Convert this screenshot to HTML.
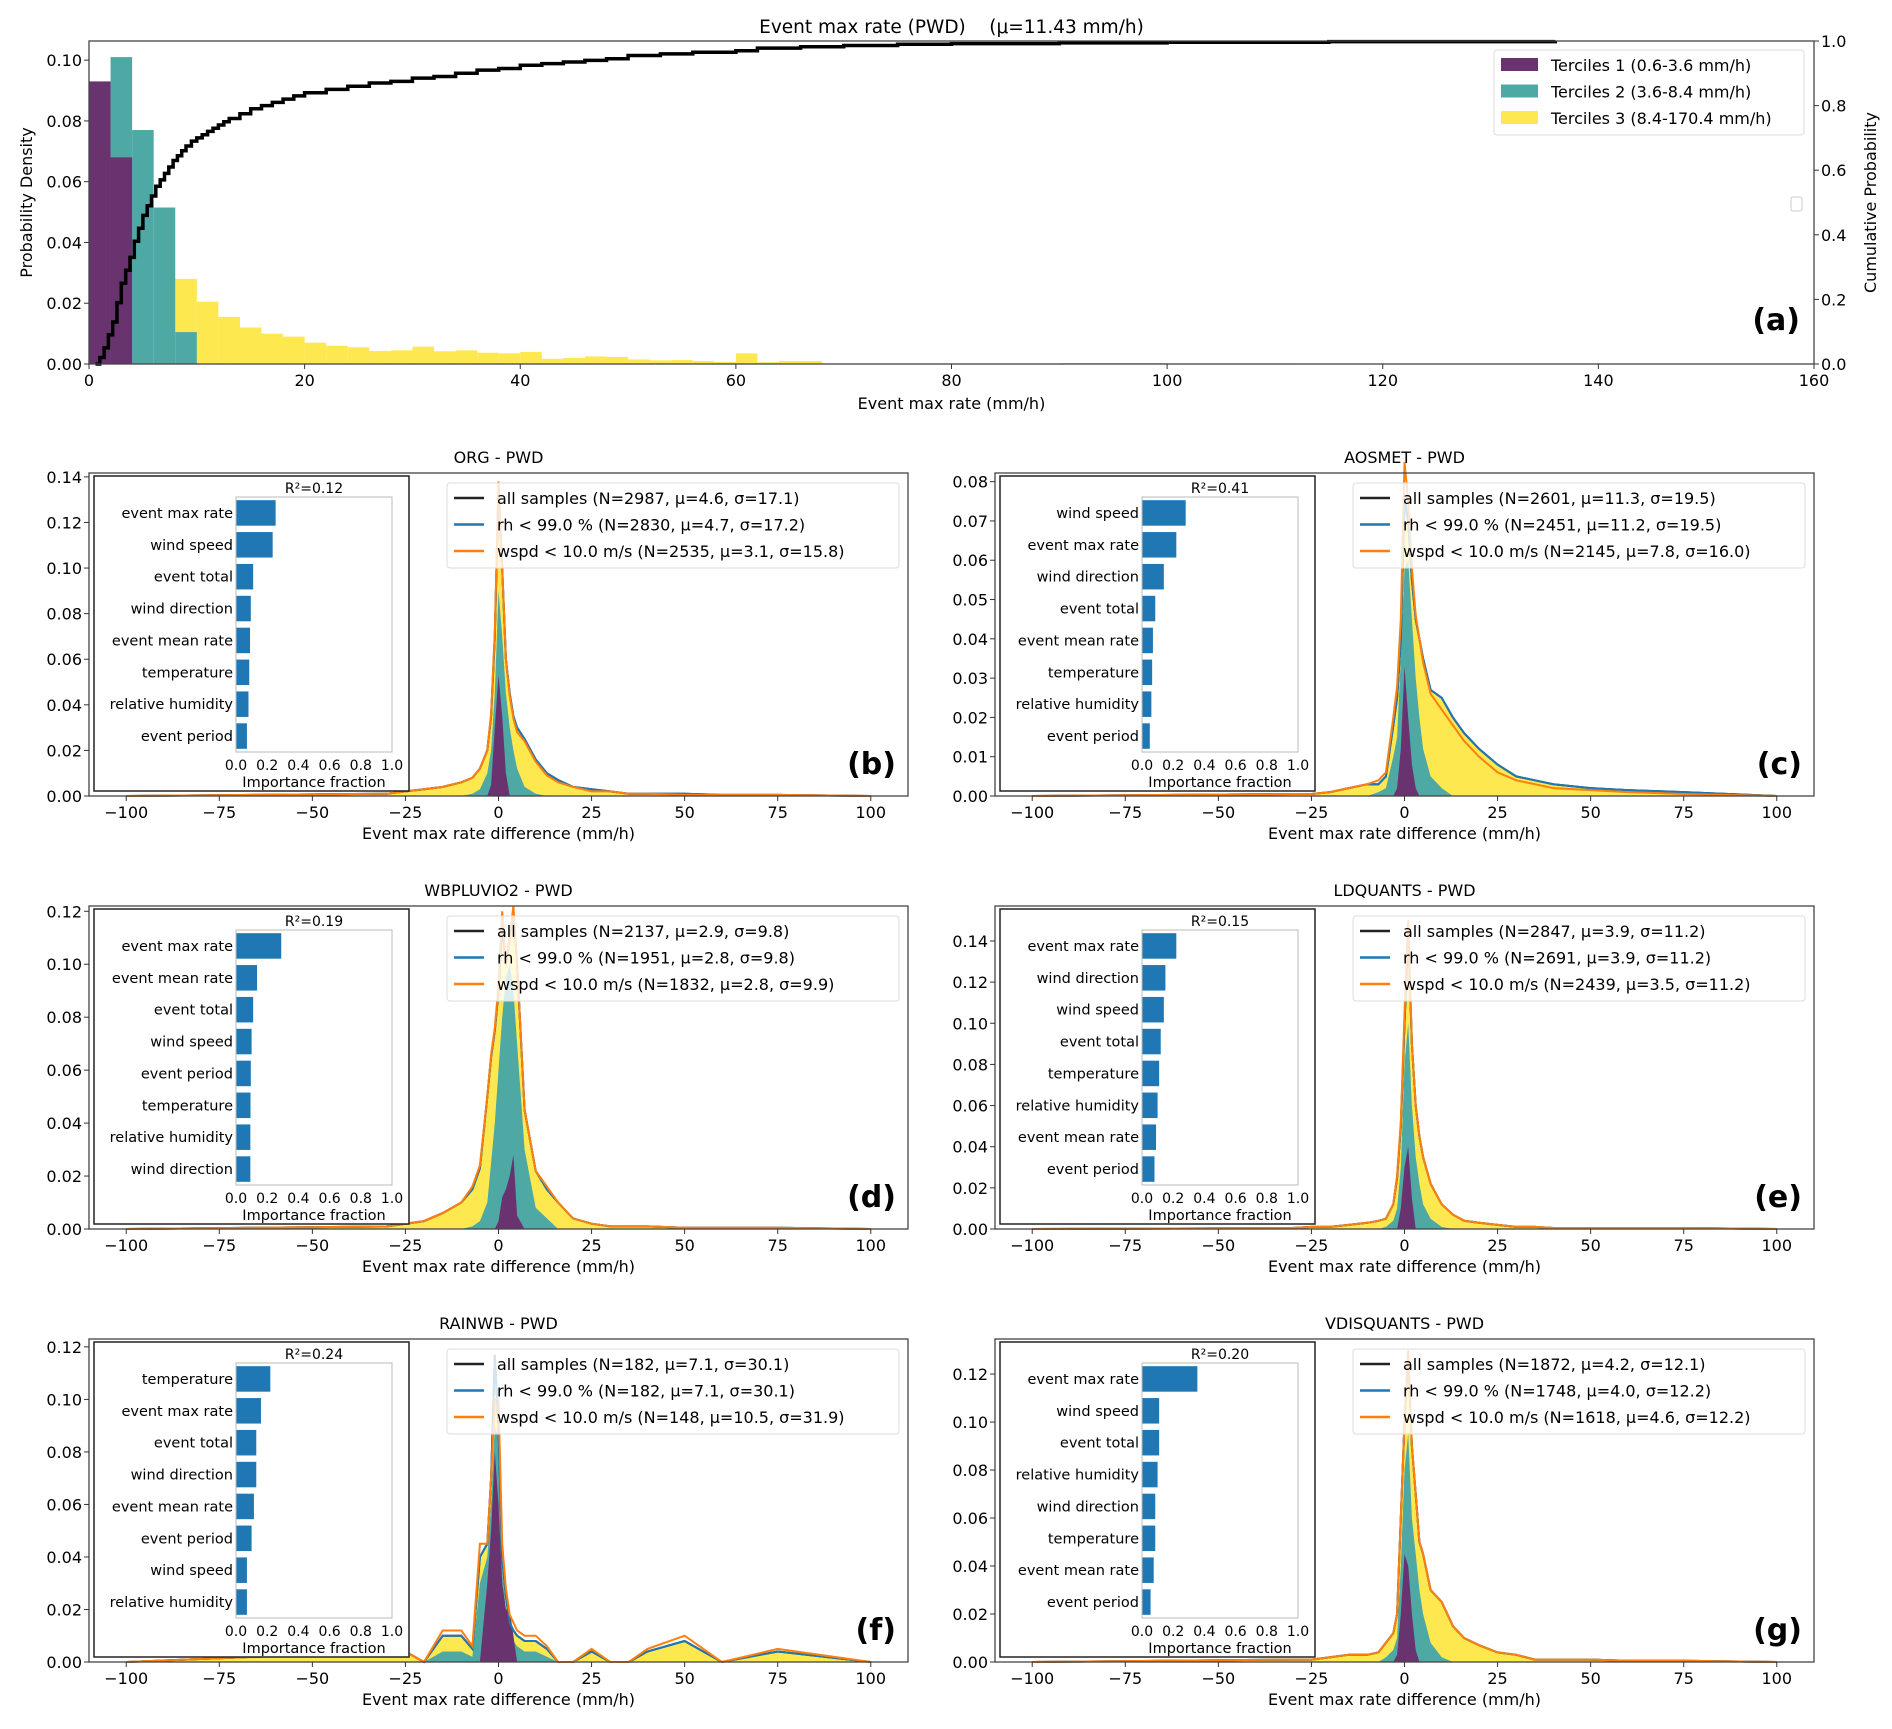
<!DOCTYPE html>
<html><head><meta charset="utf-8">
<style>
html,body{margin:0;padding:0;background:#fff;}
svg{display:block;font-family:"DejaVu Sans","Liberation Sans",sans-serif;}
</style></head>
<body>
<svg id="fig" width="1892" height="1729" viewBox="0 0 1892 1729" xmlns="http://www.w3.org/2000/svg"></svg>
<script>
// ---------- Panel (a) data ----------
const aBinStarts = [0,2,4,6,8,10,12,14,16,18,20,22,24,26,28,30,32,34,36,38,40,42,44,46,48,50,52,54,56,58,60,62,64,66,68,70,80,90,100,110];
const aT1 = [0.093,0.068];
const aT1Starts = [0,2];
const aT2 = [0.101,0.077,0.0515,0.0105];
const aT2Starts = [2,4,6,8];
const aT3 = [0,0,0,0,0.028,0.0205,0.0155,0.012,0.010,0.009,0.007,0.006,0.0055,0.0043,0.0045,0.0057,0.0042,0.0045,0.0037,0.0035,0.004,0.0017,0.002,0.0025,0.0023,0.0015,0.0012,0.0013,0.001,0.0007,0.0035,0.0006,0.001,0.001,0.0002,0.0002,0.0002,0.0003,0.0002,0.0002];
const cdfX = [0.6,1,1.4,1.8,2.2,2.6,3,3.4,3.8,4.2,4.6,5,5.4,5.8,6.2,6.6,7,7.4,7.8,8.2,8.6,9,9.5,10,10.5,11,11.5,12,12.5,13,14,15,16,17,18,19,20,22,24,26,28,30,32,34,36,38,40,42,44,46,48,50,53,56,60,62,66,70,75,80,90,100,115,136];
const cdfY = [0,0.02,0.05,0.09,0.13,0.19,0.25,0.29,0.33,0.38,0.42,0.46,0.49,0.52,0.55,0.57,0.59,0.61,0.63,0.645,0.66,0.675,0.69,0.70,0.71,0.72,0.73,0.74,0.75,0.76,0.775,0.79,0.80,0.81,0.82,0.83,0.84,0.85,0.86,0.87,0.875,0.885,0.89,0.90,0.91,0.915,0.925,0.93,0.935,0.94,0.945,0.955,0.96,0.965,0.97,0.978,0.982,0.986,0.99,0.992,0.994,0.996,0.998,1.0];
const aXTicks = [0,20,40,60,80,100,120,140,160];
const aYTicks = [0,0.02,0.04,0.06,0.08,0.10];
const aY2Ticks = [0,0.2,0.4,0.6,0.8,1.0];

// ---------- Sub-panel data ----------
const gridX = [-100,-30,-25,-20,-15,-10,-7,-5,-3,-2,-1,0,1,2,3,4,5,7,10,13,16,20,25,30,35,40,50,60,75,100];
const titles = ["ORG - PWD","AOSMET - PWD","WBPLUVIO2 - PWD","LDQUANTS - PWD","RAINWB - PWD","VDISQUANTS - PWD"];
const panelLabels = ["(b)","(c)","(d)","(e)","(f)","(g)"];
const yMaxes = [0.1417,0.0822,0.122,0.157,0.123,0.1346];
const yTickSets = [
 [0,0.02,0.04,0.06,0.08,0.10,0.12,0.14],
 [0,0.01,0.02,0.03,0.04,0.05,0.06,0.07,0.08],
 [0,0.02,0.04,0.06,0.08,0.10,0.12],
 [0,0.02,0.04,0.06,0.08,0.10,0.12,0.14],
 [0,0.02,0.04,0.06,0.08,0.10,0.12],
 [0,0.02,0.04,0.06,0.08,0.10,0.12]];
const r2Labels = ["R²=0.12","R²=0.41","R²=0.19","R²=0.15","R²=0.24","R²=0.20"];
const legAll = ["all samples (N=2987, μ=4.6, σ=17.1)","all samples (N=2601, μ=11.3, σ=19.5)","all samples (N=2137, μ=2.9, σ=9.8)","all samples (N=2847, μ=3.9, σ=11.2)","all samples (N=182, μ=7.1, σ=30.1)","all samples (N=1872, μ=4.2, σ=12.1)"];
const legRh = ["rh < 99.0 % (N=2830, μ=4.7, σ=17.2)","rh < 99.0 % (N=2451, μ=11.2, σ=19.5)","rh < 99.0 % (N=1951, μ=2.8, σ=9.8)","rh < 99.0 % (N=2691, μ=3.9, σ=11.2)","rh < 99.0 % (N=182, μ=7.1, σ=30.1)","rh < 99.0 % (N=1748, μ=4.0, σ=12.2)"];
const legWs = ["wspd < 10.0 m/s (N=2535, μ=3.1, σ=15.8)","wspd < 10.0 m/s (N=2145, μ=7.8, σ=16.0)","wspd < 10.0 m/s (N=1832, μ=2.8, σ=9.9)","wspd < 10.0 m/s (N=2439, μ=3.5, σ=11.2)","wspd < 10.0 m/s (N=148, μ=10.5, σ=31.9)","wspd < 10.0 m/s (N=1618, μ=4.6, σ=12.2)"];
const featNames = [
 ["event max rate","wind speed","event total","wind direction","event mean rate","temperature","relative humidity","event period"],
 ["wind speed","event max rate","wind direction","event total","event mean rate","temperature","relative humidity","event period"],
 ["event max rate","event mean rate","event total","wind speed","event period","temperature","relative humidity","wind direction"],
 ["event max rate","wind direction","wind speed","event total","temperature","relative humidity","event mean rate","event period"],
 ["temperature","event max rate","event total","wind direction","event mean rate","event period","wind speed","relative humidity"],
 ["event max rate","wind speed","event total","relative humidity","wind direction","temperature","event mean rate","event period"]];
const featVals = [
 [0.254,0.235,0.11,0.095,0.09,0.085,0.08,0.07],
 [0.28,0.22,0.14,0.085,0.07,0.065,0.06,0.05],
 [0.29,0.135,0.11,0.10,0.095,0.093,0.092,0.092],
 [0.22,0.15,0.14,0.12,0.11,0.10,0.09,0.08],
 [0.22,0.16,0.13,0.13,0.115,0.10,0.07,0.07],
 [0.355,0.11,0.11,0.10,0.085,0.085,0.075,0.055]];
const totB = [0,0.001,0.002,0.003,0.004,0.006,0.008,0.012,0.02,0.035,0.07,0.135,0.10,0.06,0.045,0.035,0.03,0.025,0.016,0.01,0.007,0.004,0.003,0.002,0.001,0.001,0.001,0.0005,0.0005,0];
const totC = [0,0.0005,0.0005,0.001,0.002,0.003,0.003,0.005,0.018,0.025,0.04,0.0757,0.07,0.055,0.045,0.04,0.035,0.027,0.025,0.02,0.016,0.012,0.008,0.005,0.004,0.003,0.002,0.0015,0.001,0];
const totD = [0,0.001,0.002,0.003,0.006,0.01,0.015,0.023,0.05,0.065,0.075,0.09,0.115,0.10,0.11,0.12,0.10,0.045,0.022,0.015,0.01,0.004,0.002,0.001,0.001,0.001,0.0005,0.0005,0.0005,0];
const totE = [0,0.0005,0.001,0.001,0.002,0.003,0.004,0.005,0.012,0.025,0.05,0.10,0.145,0.09,0.06,0.045,0.035,0.022,0.012,0.007,0.004,0.003,0.002,0.001,0.001,0.0005,0.0005,0.0005,0.0005,0];
const totF = [0,0.004,0.004,0.0,0.01,0.01,0.005,0.04,0.045,0.07,0.117,0.09,0.04,0.025,0.015,0.012,0.01,0.008,0.008,0.005,0.0,0.0,0.004,0.0,0.0,0.004,0.008,0.0,0.004,0];
const totG = [0,0.001,0.001,0.002,0.003,0.003,0.004,0.008,0.012,0.02,0.06,0.10,0.128,0.09,0.07,0.05,0.045,0.03,0.025,0.015,0.01,0.007,0.004,0.003,0.001,0.001,0.001,0.0005,0.0005,0];
const orgB = [0,0.001,0.002,0.003,0.004,0.006,0.008,0.012,0.02,0.036,0.072,0.138,0.10,0.06,0.044,0.034,0.028,0.024,0.015,0.009,0.006,0.004,0.002,0.002,0.001,0.001,0.0005,0.0005,0.0005,0];
const orgC = [0,0.0005,0.0005,0.001,0.002,0.003,0.004,0.006,0.02,0.028,0.045,0.085,0.075,0.058,0.046,0.04,0.034,0.026,0.022,0.018,0.014,0.01,0.006,0.004,0.003,0.002,0.0015,0.001,0.0005,0];
const orgD = [0,0.001,0.002,0.003,0.006,0.01,0.016,0.024,0.05,0.066,0.076,0.092,0.12,0.10,0.11,0.122,0.10,0.045,0.022,0.016,0.01,0.004,0.002,0.001,0.001,0.001,0.0005,0.0005,0.0005,0];
const orgE = [0,0.0005,0.001,0.001,0.002,0.003,0.004,0.005,0.012,0.026,0.052,0.105,0.15,0.09,0.06,0.045,0.035,0.022,0.012,0.007,0.004,0.003,0.002,0.001,0.001,0.0005,0.0005,0.0005,0.0005,0];
const orgF = [0,0.004,0.004,0.0,0.012,0.012,0.006,0.045,0.045,0.07,0.10,0.10,0.045,0.028,0.018,0.015,0.012,0.01,0.01,0.006,0.0,0.0,0.005,0.0,0.0,0.005,0.01,0.0,0.005,0];
const orgG = [0,0.001,0.001,0.002,0.003,0.003,0.004,0.008,0.012,0.02,0.06,0.10,0.13,0.09,0.07,0.05,0.045,0.03,0.025,0.015,0.01,0.007,0.004,0.003,0.001,0.001,0.001,0.0005,0.0005,0];
const tealB = [0,0,0,0,0,0,0.001,0.003,0.01,0.02,0.045,0.09,0.07,0.045,0.03,0.02,0.012,0.004,0.001,0,0,0,0,0,0,0,0,0,0,0];
const tealC = [0,0,0,0,0,0,0.001,0.002,0.01,0.015,0.035,0.058,0.06,0.045,0.03,0.02,0.012,0.005,0.002,0,0,0,0,0,0,0,0,0,0,0];
const tealD = [0,0,0,0,0,0,0.001,0.003,0.01,0.025,0.04,0.06,0.08,0.095,0.10,0.09,0.07,0.03,0.008,0.004,0,0,0,0,0,0,0,0,0,0];
const tealE = [0,0,0,0,0,0,0,0.001,0.004,0.01,0.03,0.08,0.10,0.06,0.035,0.022,0.012,0.005,0.001,0,0,0,0,0,0,0,0,0,0,0];
const tealF = [0,0,0,0,0.004,0.004,0.002,0.03,0.04,0.06,0.09,0.085,0.035,0.02,0.012,0.008,0.006,0.004,0.004,0.002,0,0,0,0,0,0,0,0,0,0];
const tealG = [0,0,0,0,0,0,0,0.002,0.005,0.01,0.04,0.08,0.095,0.06,0.045,0.03,0.02,0.008,0.002,0,0,0,0,0,0,0,0,0,0,0];
const purpB = [0,0,0,0,0,0,0,0,0,0.005,0.03,0.053,0.035,0.01,0,0,0,0,0,0,0,0,0,0,0,0,0,0,0,0];
const purpC = [0,0,0,0,0,0,0,0,0,0.002,0.012,0.033,0.02,0.008,0.002,0,0,0,0,0,0,0,0,0,0,0,0,0,0,0];
const purpD = [0,0,0,0,0,0,0,0,0,0,0,0.003,0.012,0.015,0.02,0.028,0.005,0,0,0,0,0,0,0,0,0,0,0,0,0];
const purpE = [0,0,0,0,0,0,0,0,0,0,0.01,0.03,0.04,0.015,0,0,0,0,0,0,0,0,0,0,0,0,0,0,0,0];
const purpF = [0,0,0,0,0,0,0,0,0.03,0.05,0.08,0.06,0.03,0.02,0.02,0.01,0,0,0,0,0,0,0,0,0,0,0,0,0,0];
const purpG = [0,0,0,0,0,0,0,0,0,0.003,0.02,0.045,0.04,0.02,0.005,0,0,0,0,0,0,0,0,0,0,0,0,0,0,0];
const xTicksSub = [-100,-75,-50,-25,0,25,50,75,100];
const impTicks = [0,0.2,0.4,0.6,0.8,1.0];

const totAll = [totB,totC,totD,totE,totF,totG];
const orgAll = [orgB,orgC,orgD,orgE,orgF,orgG];
const tealAll = [tealB,tealC,tealD,tealE,tealF,tealG];
const purpAll = [purpB,purpC,purpD,purpE,purpF,purpG];

const NS = "http://www.w3.org/2000/svg";
const svg = document.getElementById('fig');
function mk(tag, attrs, parent, text){
  const e = document.createElementNS(NS, tag);
  for (const k in attrs) e.setAttribute(k, attrs[k]);
  if (text !== undefined) e.textContent = text;
  (parent || svg).appendChild(e);
  return e;
}
const C_PURP = "#68336f", C_TEAL = "#4ea8a3", C_YEL = "#fde84f", C_BLUE = "#1f77b4", C_ORG = "#ff7f0e";

(function(){
  const L=89, R=1814, T=41, B=364;
  const xa = v => L + (v-0)/(160-0)*(R-L);
  const ya = v => B - v/0.1063*(B-T);
  const y2 = v => B - v*(B-T);
  const g = mk('g',{});
  
  
  const t = mk('text',{x:(L+R)/2,y:33,'text-anchor':'middle','font-size':18.5},g,'Event max rate (PWD)\u00a0\u00a0\u00a0\u00a0(μ=11.43 mm/h)');
   
  aT3.forEach((v,i)=>{ if(v<=0) return; const x0=aBinStarts[i], w=(i+1<aBinStarts.length? aBinStarts[i+1]-x0 : 2);
    const r=mk('rect',{x:xa(x0),y:ya(v),width:xa(x0+w)-xa(x0),height:B-ya(v),fill:C_YEL},g);
      });
  aT2.forEach((v,i)=>{ const x0=aT2Starts[i];
    const r=mk('rect',{x:xa(x0),y:ya(v),width:xa(x0+2)-xa(x0),height:B-ya(v),fill:C_TEAL},g);
      });
  aT1.forEach((v,i)=>{ const x0=aT1Starts[i];
    const r=mk('rect',{x:xa(x0),y:ya(v),width:xa(x0+2)-xa(x0),height:B-ya(v),fill:C_PURP},g);
      });
  let d = "M"+xa(cdfX[0])+","+y2(cdfY[0]);
  for(let i=1;i<cdfX.length;i++){ d += " H"+xa(cdfX[i]).toFixed(1)+" V"+y2(cdfY[i]).toFixed(1); }
  const p=mk('path',{d:d,fill:'none',stroke:'#000','stroke-width':3.5},g);
   
  const fr=mk('rect',{x:L,y:T,width:R-L,height:B-T,fill:'none',stroke:'#444','stroke-width':1.3},g);
   
  aXTicks.forEach(v=>{ mk('line',{x1:xa(v),x2:xa(v),y1:B,y2:B+5,stroke:'#333'},g);
    const tt=mk('text',{x:xa(v),y:B+22,'text-anchor':'middle','font-size':16},g,String(v));
      });
  aYTicks.forEach(v=>{ mk('line',{x1:L-5,x2:L,y1:ya(v),y2:ya(v),stroke:'#333'},g);
    const tt=mk('text',{x:L-7,y:ya(v)+6,'text-anchor':'end','font-size':16},g,v.toFixed(2));
      });
  aY2Ticks.forEach(v=>{ mk('line',{x1:R,x2:R+5,y1:y2(v),y2:y2(v),stroke:'#333'},g);
    const tt=mk('text',{x:R+7,y:y2(v)+6,'font-size':16},g,v.toFixed(1));
      });
  const xl=mk('text',{x:(L+R)/2,y:B+45,'text-anchor':'middle','font-size':16},g,'Event max rate (mm/h)');
   
  const yl=mk('text',{x:0,y:0,'text-anchor':'middle','font-size':16,transform:`translate(32,${(T+B)/2}) rotate(-90)`},g,'Probability Density');
   
  const yr=mk('text',{x:0,y:0,'text-anchor':'middle','font-size':16,transform:`translate(1876,${(T+B)/2}) rotate(-90)`},g,'Cumulative Probability');
   
  const lg=mk('g',{},g);  
  mk('rect',{x:1494,y:50,width:310,height:85,rx:3,fill:'#fff',stroke:'#ddd'},lg);
  const ln=["Terciles 1 (0.6-3.6 mm/h)","Terciles 2 (3.6-8.4 mm/h)","Terciles 3 (8.4-170.4 mm/h)"], lc=[C_PURP,C_TEAL,C_YEL];
  ln.forEach((s,i)=>{ mk('rect',{x:1501,y:58+i*26.5,width:37,height:13,fill:lc[i]},lg);
    const e=mk('text',{x:1551,y:71+i*26.5,'font-size':16},lg,s);
      });
  mk('rect',{x:1791,y:197,width:11,height:14,rx:2,fill:'#fff',stroke:'#ccc'},g);
  const al=mk('text',{x:1800,y:330,'text-anchor':'end','font-size':30,'font-weight':'bold'},g,'(a)');
   
})();

const colL = [89,995], colR = [908,1814], rowT = [473,906,1339], H = 323;
for (let p=0; p<6; p++){
  const col = p%2, row = Math.floor(p/2);
  const L=colL[col], R=colR[col], T=rowT[row], B=T+H;
  const ymax=yMaxes[p];
  const xs = v => L + (v+110)/220*(R-L);
  const ys = v => B - v/ymax*(B-T);
  const g = mk('g',{});
  
  
  const tt=mk('text',{x:(L+R)/2,y:T-10,'text-anchor':'middle','font-size':16},g,titles[p]);
   
  function area(arr,color,name){
    let d="M"+xs(gridX[0])+","+B;
    arr.forEach((v,i)=>{ d+=" L"+xs(gridX[i]).toFixed(1)+","+ys(v).toFixed(1); });
    d+=" L"+xs(gridX[gridX.length-1])+","+B+" Z";
    const e=mk('path',{d:d,fill:color},g);
     
  }
  function line(arr,color,name){
    const pts=arr.map((v,i)=>xs(gridX[i]).toFixed(1)+","+ys(v).toFixed(1)).join(" ");
    const e=mk('polyline',{points:pts,fill:'none',stroke:color,'stroke-width':2},g);
     
  }
  area(totAll[p],C_YEL,'tercile3-area');
  area(tealAll[p],C_TEAL,'tercile2-area');
  area(purpAll[p],C_PURP,'tercile1-area');
  line(totAll[p],'#222','all-samples-line');
  line(totAll[p],C_BLUE,'rh-filter-line');
  line(orgAll[p],C_ORG,'wspd-filter-line');
  const fr=mk('rect',{x:L,y:T,width:R-L,height:H,fill:'none',stroke:'#444','stroke-width':1.3},g);
   
  xTicksSub.forEach(v=>{ mk('line',{x1:xs(v),x2:xs(v),y1:B,y2:B+5,stroke:'#333'},g);
    const e=mk('text',{x:xs(v),y:B+22,'text-anchor':'middle','font-size':16},g,(v<0?'−'+(-v):String(v)));
      });
  yTickSets[p].forEach(v=>{ mk('line',{x1:L-5,x2:L,y1:ys(v),y2:ys(v),stroke:'#333'},g);
    const e=mk('text',{x:L-7,y:ys(v)+6,'text-anchor':'end','font-size':16},g,v.toFixed(2));
      });
  const xl=mk('text',{x:(L+R)/2,y:B+43,'text-anchor':'middle','font-size':16},g,'Event max rate difference (mm/h)');
   
  const lg=mk('g',{},g);  
  mk('rect',{x:L+358,y:T+10,width:452,height:85,rx:3,fill:'#fff','fill-opacity':0.8,stroke:'#ddd'},lg);
  [legAll[p],legRh[p],legWs[p]].forEach((s,i)=>{ const c=['#222',C_BLUE,C_ORG][i];
    mk('line',{x1:L+365,x2:L+395,y1:T+25+i*26.5,y2:T+25+i*26.5,stroke:c,'stroke-width':2.5},lg);
    const e=mk('text',{x:L+408,y:T+31+i*26.5,'font-size':16},lg,s);
      });
  const ig=mk('g',{},g);  
  mk('rect',{x:L+5,y:T+3,width:315,height:315,fill:'#fff',stroke:'#222','stroke-width':1.5},ig);
  const iL=L+147, iR=L+303, iT=T+24, iB=T+279;
  const xi = v => iL + v*(iR-iL);
  const step=(iB-iT)/8;
  featVals[p].forEach((v,i)=>{
    const yc=iT+step*(i+0.5);
    const r=mk('rect',{x:iL,y:yc-step*0.4,width:xi(v)-iL,height:step*0.8,fill:C_BLUE},ig);
     
    const e=mk('text',{x:iL-3,y:yc+5,'text-anchor':'end','font-size':14.5},ig,featNames[p][i]);
     
  });
  mk('rect',{x:iL,y:iT,width:iR-iL,height:iB-iT,fill:'none',stroke:'#bbb'},ig);
  impTicks.forEach(v=>{ const e=mk('text',{x:xi(v),y:iB+18,'text-anchor':'middle','font-size':14},ig,v.toFixed(1));
      });
  const il=mk('text',{x:(iL+iR)/2,y:iB+35,'text-anchor':'middle','font-size':14.5},ig,'Importance fraction');
   
  const rt=mk('text',{x:(iL+iR)/2,y:iT-4,'text-anchor':'middle','font-size':14},ig,r2Labels[p]);
   
  const pl=mk('text',{x:R-12,y:B-22,'text-anchor':'end','font-size':30,'font-weight':'bold'},g,panelLabels[p]);
   
}
</script>
</body></html>
